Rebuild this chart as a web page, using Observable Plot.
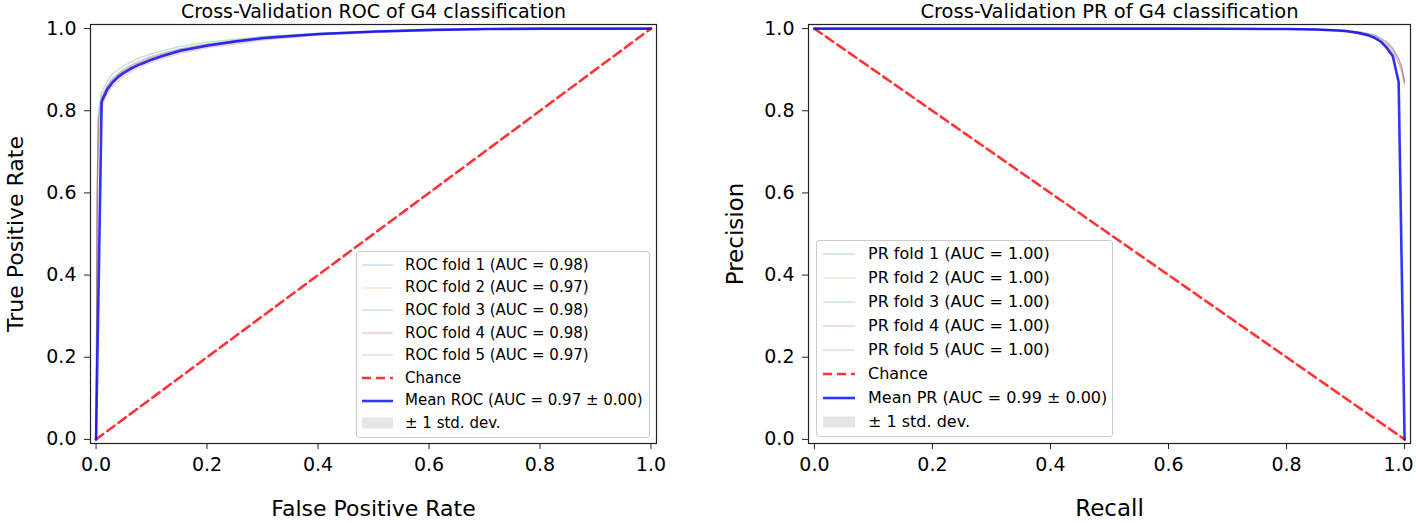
<!DOCTYPE html>
<html>
<head>
<meta charset="utf-8">
<script src="https://cdn.jsdelivr.net/npm/d3@7"></script>
<script src="https://cdn.jsdelivr.net/npm/@observablehq/plot@0.6"></script>
<style>
  body { margin: 0; background: #fff; font-family: "DejaVu Sans", sans-serif; }
  #wrap { position: relative; width: 1416px; height: 523px; overflow: hidden; }
  #wrap > .plot { position: absolute; top: 0; }
  .legend { position: absolute; background: rgba(255,255,255,0.8); border: 1px solid #cccccc; border-radius: 3px; box-sizing: border-box; color: #000; }
  .legend svg { display: block; }
</style>
</head>
<body>
<div id="wrap"></div>
<script>
// ---------- data ----------
const foldColors = ["#1f77b4", "#ff7f0e", "#2ca02c", "#d62728", "#9467bd"];

// ROC folds
const rocFoldFpr = [0, 0.002, 0.004, 0.01, 0.02, 0.03, 0.05, 0.075, 0.1, 0.15, 0.2, 0.3, 0.4, 0.5, 0.6, 0.7, 0.8, 1.0];
const rocFold1 = [0, 0.60, 0.78, 0.835, 0.862, 0.880, 0.902, 0.920, 0.933, 0.951, 0.963, 0.979, 0.988, 0.993, 0.997, 0.999, 1.0, 1.0];
const rocFold2 = [0, 0.55, 0.75, 0.820, 0.848, 0.866, 0.889, 0.908, 0.922, 0.942, 0.956, 0.974, 0.985, 0.991, 0.995, 0.998, 0.999, 1.0];
const rocFold3 = [0, 0.62, 0.80, 0.845, 0.872, 0.890, 0.910, 0.927, 0.939, 0.956, 0.967, 0.981, 0.989, 0.994, 0.997, 0.999, 1.0, 1.0];
const rocFold4 = [0, 0.58, 0.77, 0.830, 0.858, 0.876, 0.898, 0.916, 0.930, 0.949, 0.961, 0.977, 0.987, 0.992, 0.996, 0.998, 1.0, 1.0];
const rocFold5 = [0, 0.50, 0.72, 0.810, 0.840, 0.860, 0.884, 0.904, 0.918, 0.939, 0.953, 0.972, 0.984, 0.990, 0.995, 0.998, 0.999, 1.0];
const rocFoldLabels = ["ROC fold 1 (AUC = 0.98)", "ROC fold 2 (AUC = 0.97)", "ROC fold 3 (AUC = 0.98)", "ROC fold 4 (AUC = 0.98)", "ROC fold 5 (AUC = 0.97)"];

// ROC mean
const rocMeanFpr = [0, 0.0101, 0.0202, 0.0303, 0.0404, 0.0505, 0.0606, 0.0707, 0.0808, 0.101, 0.1212, 0.1515, 0.202, 0.2525, 0.303, 0.404, 0.505, 0.606, 0.707, 0.808, 0.909, 1.0];
const rocMeanTpr = [0, 0.822, 0.852, 0.870, 0.883, 0.893, 0.901, 0.908, 0.914, 0.925, 0.934, 0.946, 0.959, 0.969, 0.977, 0.987, 0.993, 0.997, 0.999, 1.0, 1.0, 1.0];
const rocStd     = [0, 0.010, 0.008, 0.007, 0.007, 0.006, 0.006, 0.006, 0.005, 0.005, 0.005, 0.004, 0.004, 0.003, 0.003, 0.002, 0.002, 0.001, 0.001, 0.001, 0, 0];

// PR folds
const prFoldRecall = [0, 0.5, 0.8, 0.85, 0.9, 0.93, 0.95, 0.97, 0.98, 0.99, 0.995, 1.0];
const prFold1 = [1, 1, 0.999, 0.998, 0.995, 0.990, 0.983, 0.965, 0.950, 0.925, 0.905, 0.870];
const prFold2 = [1, 1, 0.999, 0.997, 0.994, 0.988, 0.980, 0.962, 0.946, 0.920, 0.900, 0.868];
const prFold3 = [1, 1, 0.999, 0.998, 0.996, 0.991, 0.985, 0.968, 0.953, 0.928, 0.908, 0.872];
const prFold4 = [1, 1, 0.998, 0.996, 0.992, 0.985, 0.977, 0.958, 0.942, 0.915, 0.895, 0.862];
const prFold5 = [1, 1, 0.999, 0.998, 0.995, 0.990, 0.983, 0.966, 0.951, 0.926, 0.906, 0.870];
const prFoldLabels = ["PR fold 1 (AUC = 1.00)", "PR fold 2 (AUC = 1.00)", "PR fold 3 (AUC = 1.00)", "PR fold 4 (AUC = 1.00)", "PR fold 5 (AUC = 1.00)"];

// PR mean
const prMeanRecall    = [0, 0.1, 0.2, 0.3, 0.4, 0.5, 0.6, 0.7, 0.8, 0.85, 0.88, 0.9, 0.92, 0.94, 0.95, 0.96, 0.97, 0.98, 0.9899, 1.0];
const prMeanPrecision = [1, 1, 1, 1, 1, 1, 1, 0.9995, 0.999, 0.998, 0.996, 0.994, 0.990, 0.983, 0.977, 0.968, 0.953, 0.933, 0.870, 0.0];
const prStd           = [0, 0, 0, 0, 0, 0, 0, 0.0005, 0.001, 0.001, 0.001, 0.002, 0.002, 0.003, 0.003, 0.004, 0.004, 0.005, 0.006, 0];

const ticks = [0, 0.2, 0.4, 0.6, 0.8, 1.0];
const chanceROC = [{x: 0, y: 0}, {x: 1, y: 1}];
const chancePR = [{x: 0, y: 1}, {x: 1, y: 0}];

// ---------- build tables ----------
function foldTable(xs, folds) {
  const out = [];
  folds.forEach((ys, k) => xs.forEach((x, i) => out.push({fold: k, x, y: ys[i]})));
  return out;
}
function meanTable(xs, ys, sd) {
  return xs.map((x, i) => ({x, y: ys[i], lo: Math.max(0, ys[i] - sd[i]), hi: Math.min(1, ys[i] + sd[i])}));
}
const rocFolds = foldTable(rocFoldFpr, [rocFold1, rocFold2, rocFold3, rocFold4, rocFold5]);
const prFolds = foldTable(prFoldRecall, [prFold1, prFold2, prFold3, prFold4, prFold5]);
const rocMean = meanTable(rocMeanFpr, rocMeanTpr, rocStd);
const prMean = meanTable(prMeanRecall, prMeanPrecision, prStd);

const fmt = d3.format(".1f");

function makePlot({width, marginLeft, marginRight, folds, mean, chance, title, xLabel, yLabel, titleSize, labelSize, tickSize, yLabelDx, lastTickDx}) {
  const axisMarks = [
    Plot.axisX({ticks, tickFormat: d => (lastTickDx && d === 1) ? "" : fmt(d), tickSize: 6, tickPadding: 8, label: null, stroke: "#222"}),
    Plot.axisY({ticks, tickFormat: fmt, tickSize: 6, tickPadding: 8, label: null, stroke: "#222"})
  ];
  if (lastTickDx) {
    axisMarks.push(Plot.text([1], {x: d => d, text: d => fmt(d), frameAnchor: "bottom", lineAnchor: "top", dy: 14, dx: lastTickDx, fill: "#000"}));
  }
  return Plot.plot({
    width, height: 523,
    marginLeft, marginRight, marginTop: 24, marginBottom: 80,
    style: {fontFamily: "DejaVu Sans", fontSize: tickSize + "px", color: "#000", background: "transparent"},
    x: {domain: [-0.01, 1.01], label: null},
    y: {domain: [-0.01, 1.01], label: null},
    color: {domain: [0, 1, 2, 3, 4], range: foldColors},
    marks: [
      Plot.areaY(mean, {x: "x", y1: "lo", y2: "hi", fill: "grey", fillOpacity: 0.2}),
      Plot.line(folds, {x: "x", y: "y", z: "fold", stroke: "fold", strokeOpacity: 0.3, strokeWidth: 1.2}),
      Plot.line(chance, {x: "x", y: "y", stroke: "#ff0000", strokeOpacity: 0.8, strokeWidth: 2.6, strokeDasharray: "9,5"}),
      Plot.line(mean, {x: "x", y: "y", stroke: "#0000ff", strokeOpacity: 0.8, strokeWidth: 2.6}),
      Plot.frame({stroke: "#222", strokeWidth: 1.2}),
      ...axisMarks,
      Plot.text([title], {text: d => d, frameAnchor: "top", lineAnchor: "middle", textAnchor: "middle", dy: -13, fontSize: titleSize, fill: "#000"}),
      Plot.text([xLabel], {text: d => d, frameAnchor: "bottom", lineAnchor: "middle", textAnchor: "middle", dy: 65, fontSize: labelSize, fill: "#000"}),
      Plot.text([yLabel], {text: d => d, frameAnchor: "left", lineAnchor: "middle", textAnchor: "middle", dx: yLabelDx, rotate: -90, fontSize: labelSize, fill: "#000"})
    ]
  });
}

const wrap = document.getElementById("wrap");
const left = makePlot({width: 700, marginLeft: 90, marginRight: 44, folds: rocFolds, mean: rocMean, chance: chanceROC,
  title: "Cross-Validation ROC of G4 classification", xLabel: "False Positive Rate", yLabel: "True Positive Rate",
  titleSize: 19, labelSize: 22, tickSize: 19, yLabelDx: -75, lastTickDx: 0});
left.classList.add("plot"); left.style.left = "0px";
wrap.appendChild(left);
const right = makePlot({width: 716, marginLeft: 108, marginRight: 6, folds: prFolds, mean: prMean, chance: chancePR,
  title: "Cross-Validation PR of G4 classification", xLabel: "Recall", yLabel: "Precision",
  titleSize: 19.5, labelSize: 23, tickSize: 19, yLabelDx: -73, lastTickDx: -6});
right.classList.add("plot"); right.style.left = "700px";
wrap.appendChild(right);

// ---------- legends ----------
function legend({left, top, width, height, sampleX, textX, firstRow, rowGap, fontSize, sampleW, foldLabels, meanLabel}) {
  const box = document.createElement("div");
  box.className = "legend";
  Object.assign(box.style, {left: left + "px", top: top + "px", width: width + "px", height: height + "px", fontSize: fontSize + "px"});
  const entries = foldLabels.map((t, i) => ({t, kind: "fold", c: foldColors[i]}))
    .concat([{t: "Chance", kind: "chance"}, {t: meanLabel, kind: "mean"}, {t: "± 1 std. dev.", kind: "std"}]);
  const svgNS = "http://www.w3.org/2000/svg";
  entries.forEach((e, i) => {
    const cy = firstRow + i * rowGap - top;
    const s = document.createElementNS(svgNS, "svg");
    s.setAttribute("width", sampleW); s.setAttribute("height", 14);
    s.style.position = "absolute"; s.style.left = (sampleX - left) + "px"; s.style.top = (cy - 7) + "px";
    let el;
    if (e.kind === "std") {
      el = document.createElementNS(svgNS, "rect");
      el.setAttribute("x", 0); el.setAttribute("y", 1.5); el.setAttribute("width", sampleW); el.setAttribute("height", 11);
      el.setAttribute("fill", "grey"); el.setAttribute("fill-opacity", 0.2);
    } else {
      el = document.createElementNS(svgNS, "line");
      el.setAttribute("x1", 0); el.setAttribute("x2", sampleW); el.setAttribute("y1", 7); el.setAttribute("y2", 7);
      if (e.kind === "fold") { el.setAttribute("stroke", e.c); el.setAttribute("stroke-opacity", 0.3); el.setAttribute("stroke-width", 1.2); }
      if (e.kind === "chance") { el.setAttribute("stroke", "#ff0000"); el.setAttribute("stroke-opacity", 0.8); el.setAttribute("stroke-width", 2.6); el.setAttribute("stroke-dasharray", "9,5"); }
      if (e.kind === "mean") { el.setAttribute("stroke", "#0000ff"); el.setAttribute("stroke-opacity", 0.8); el.setAttribute("stroke-width", 2.6); }
    }
    s.appendChild(el);
    box.appendChild(s);
    const txt = document.createElement("div");
    txt.textContent = e.t;
    Object.assign(txt.style, {position: "absolute", left: (textX - left) + "px", top: (cy - fontSize * 0.62) + "px", lineHeight: (fontSize * 1.24) + "px", whiteSpace: "nowrap"});
    box.appendChild(txt);
  });
  wrap.appendChild(box);
}
legend({left: 356, top: 251, width: 294, height: 187, sampleX: 361, textX: 404, firstRow: 264, rowGap: 22.6, fontSize: 15, sampleW: 31,
  foldLabels: rocFoldLabels, meanLabel: "Mean ROC (AUC = 0.97 ± 0.00)"});
legend({left: 816, top: 240, width: 297, height: 197, sampleX: 822, textX: 867, firstRow: 253, rowGap: 24, fontSize: 16, sampleW: 32,
  foldLabels: prFoldLabels, meanLabel: "Mean PR (AUC = 0.99 ± 0.00)"});
</script>
</body>
</html>
